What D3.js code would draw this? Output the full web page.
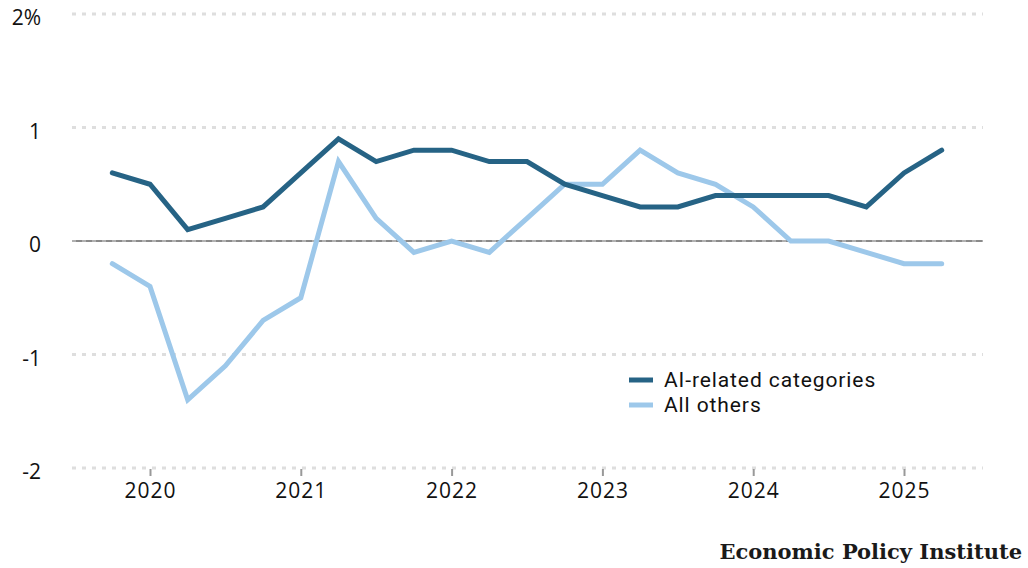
<!DOCTYPE html>
<html><head><meta charset="utf-8">
<script src="https://cdn.jsdelivr.net/npm/d3@7"></script>
<style>
body{margin:0;background:#fff;}
svg{display:block;}
</style></head>
<body><svg id="c" width="1028" height="568"></svg>
<script>
const quarters = [2019.75,2020.0,2020.25,2020.5,2020.75,2021.0,2021.25,2021.5,2021.75,2022.0,2022.25,2022.5,2022.75,2023.0,2023.25,2023.5,2023.75,2024.0,2024.25,2024.5,2024.75,2025.0,2025.25];
const aiRelated = [0.6,0.5,0.1,0.2,0.3,0.6,0.9,0.7,0.8,0.8,0.7,0.7,0.5,0.4,0.3,0.3,0.4,0.4,0.4,0.4,0.3,0.6,0.8];
const allOthers = [-0.2,-0.4,-1.4,-1.1,-0.7,-0.5,0.7,0.2,-0.1,0.0,-0.1,0.2,0.5,0.5,0.8,0.6,0.5,0.3,0.0,0.0,-0.1,-0.2,-0.2];
const yTicks = [2,1,0,-1,-2];
const yTickLabels = ["2%","1","0","-1","-2"];
const xTicks = [2020,2021,2022,2023,2024,2025];
const seriesNames = ["AI-related categories","All others"];
const colors = ["#266385","#9dc8ea"];

const sans = "'Open Sans',Lato,sans-serif";
const svg = d3.select("#c");
const x = d3.scaleLinear().domain([2020,2025]).range([150,904]);
const y = d3.scaleLinear().domain([-2,2]).range([468,14]);

// gridlines
svg.append("g").selectAll("line").data(yTicks.filter(d=>d!==0)).join("line")
  .attr("x1",72).attr("x2",983).attr("y1",d=>y(d)).attr("y2",d=>y(d))
  .attr("stroke","#dedede").attr("stroke-width",3).attr("stroke-dasharray","4,6");

// zero line
svg.append("line").attr("x1",72).attr("x2",983).attr("y1",y(0)).attr("y2",y(0))
  .attr("stroke","#8a8a8a").attr("stroke-width",2);
svg.append("line").attr("x1",72).attr("x2",983).attr("y1",y(0)).attr("y2",y(0))
  .attr("stroke","#b0b0b0").attr("stroke-width",2).attr("stroke-dasharray","4,6");

// y labels
svg.append("g").selectAll("text").data(yTicks).join("text")
  .attr("x",41).attr("y",d=>y(d)+11).attr("text-anchor","end")
  .attr("font-family",sans).attr("font-size",21).attr("fill","#111")
  .text((d,i)=>yTickLabels[i]);

// x axis ticks
const xAxis = d3.axisBottom(x).tickValues(xTicks).tickFormat(d3.format("d")).tickSize(7).tickPadding(7);
const gx = svg.append("g").attr("transform",`translate(0,${y(-2)+1})`).call(xAxis);
gx.select(".domain").remove();
gx.selectAll(".tick line").attr("stroke","#999").attr("stroke-width",2);
gx.selectAll(".tick text").attr("font-size",21).attr("font-family",sans).attr("fill","#111")
  .attr("letter-spacing",1);

// lines
const line = d3.line().x((d,i)=>x(quarters[i])).y(d=>y(d));
[allOthers, aiRelated].forEach((s,k)=>{
  const c = k===0 ? colors[1] : colors[0];
  svg.append("path").datum(s).attr("d",line).attr("fill","none")
    .attr("stroke",c).attr("stroke-width",5).attr("stroke-linejoin","miter").attr("stroke-linecap","round");
});

// legend
const lg = svg.append("g").attr("transform","translate(629,380)");
seriesNames.forEach((n,i)=>{
  lg.append("line").attr("x1",0).attr("x2",24).attr("y1",i*25).attr("y2",i*25)
    .attr("stroke",colors[i]).attr("stroke-width",5);
  lg.append("text").attr("x",35).attr("y",i*25+7).attr("font-family","Roboto,'Open Sans',sans-serif")
    .attr("font-size",21).attr("letter-spacing",0.9).attr("fill","#111").text(n);
});

// source
svg.append("text").attr("x",1022).attr("y",559).attr("text-anchor","end")
  .attr("font-family","'DejaVu Serif','Liberation Serif',serif").attr("font-weight","bold")
  .attr("font-size",21).attr("fill","#1a1a1a").text("Economic Policy Institute");
</script></body></html>
